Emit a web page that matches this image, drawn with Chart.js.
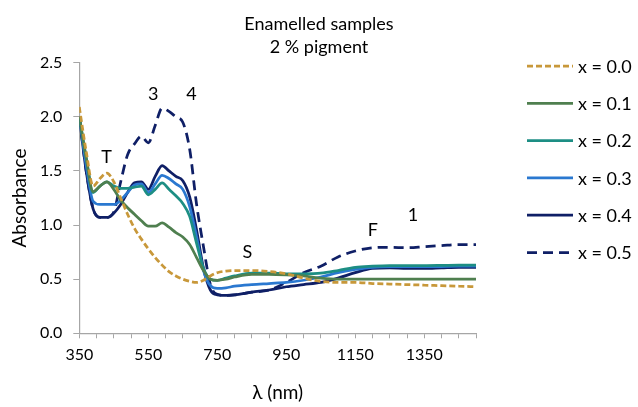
<!DOCTYPE html>
<html>
<head>
<meta charset="utf-8">
<script src="https://cdn.jsdelivr.net/npm/chart.js@4/dist/chart.umd.min.js"></script>
<style>
  html, body { margin: 0; padding: 0; background: #ffffff; }
  #wrap { width: 638px; height: 407px; }
</style>
</head>
<body>
<div id="wrap"><canvas id="c" width="638" height="407"></canvas></div>
<script>
// ---- data ----
const wavelengths = [350, 370, 390, 410, 430, 450, 470, 490, 510, 530, 550, 570, 590, 610, 630, 650, 670, 690, 710, 730, 750, 775, 800, 850, 900, 950, 1000, 1050, 1100, 1150, 1200, 1250, 1300, 1350, 1400, 1450, 1500];

const seriesLabels = ['x = 0.0', 'x = 0.1', 'x = 0.2', 'x = 0.3', 'x = 0.4', 'x = 0.5'];

const absX00 = [2.09, 1.68, 1.36, 1.43, 1.48, 1.40, 1.25, 1.10, 0.97, 0.87, 0.78, 0.70, 0.63, 0.57, 0.53, 0.50, 0.48, 0.47, 0.49, 0.53, 0.56, 0.575, 0.58, 0.58, 0.57, 0.55, 0.51, 0.48, 0.47, 0.47, 0.46, 0.455, 0.45, 0.445, 0.44, 0.435, 0.43];
const absX01 = [2.00, 1.62, 1.31, 1.36, 1.40, 1.33, 1.23, 1.16, 1.10, 1.04, 0.99, 0.99, 1.02, 0.98, 0.93, 0.89, 0.82, 0.70, 0.58, 0.50, 0.49, 0.50, 0.52, 0.545, 0.545, 0.54, 0.53, 0.51, 0.50, 0.50, 0.50, 0.50, 0.50, 0.50, 0.50, 0.50, 0.50];
const absX02 = [2.00, 1.62, 1.30, 1.36, 1.40, 1.36, 1.34, 1.34, 1.35, 1.36, 1.28, 1.33, 1.39, 1.33, 1.27, 1.20, 1.08, 0.83, 0.60, 0.50, 0.49, 0.51, 0.53, 0.555, 0.555, 0.55, 0.55, 0.555, 0.58, 0.61, 0.62, 0.625, 0.625, 0.625, 0.627, 0.63, 0.63];
const absX03 = [2.00, 1.55, 1.22, 1.19, 1.19, 1.19, 1.23, 1.30, 1.37, 1.38, 1.30, 1.38, 1.46, 1.43, 1.38, 1.33, 1.17, 0.89, 0.58, 0.44, 0.415, 0.42, 0.435, 0.45, 0.46, 0.47, 0.49, 0.52, 0.56, 0.59, 0.61, 0.615, 0.615, 0.615, 0.617, 0.62, 0.62];
const absX04 = [2.00, 1.50, 1.15, 1.07, 1.07, 1.11, 1.19, 1.30, 1.39, 1.40, 1.33, 1.45, 1.55, 1.50, 1.45, 1.41, 1.26, 0.955, 0.60, 0.40, 0.355, 0.35, 0.355, 0.38, 0.40, 0.43, 0.45, 0.47, 0.51, 0.56, 0.60, 0.605, 0.60, 0.60, 0.605, 0.61, 0.61];
const absX05 = [2.00, 1.50, 1.15, 1.07, 1.07, 1.12, 1.40, 1.65, 1.75, 1.82, 1.76, 1.92, 2.08, 2.05, 2.00, 1.95, 1.70, 1.19, 0.80, 0.45, 0.36, 0.35, 0.355, 0.38, 0.40, 0.47, 0.56, 0.62, 0.705, 0.76, 0.79, 0.795, 0.79, 0.80, 0.81, 0.82, 0.82];

const yTickValues = [0, 0.5, 1.0, 1.5, 2.0, 2.5];
const xTickLabelValues = [350, 550, 750, 950, 1150, 1350];

const titleLines = ['Enamelled samples', '2 % pigment'];

// peak annotations
const noteTexts = ['T', '3', '4', 'S', 'F', '1'];
const noteWl = [429, 564, 675, 837, 1201, 1317];
const noteAbs = [1.63, 2.21, 2.21, 0.75, 0.955, 1.09];

// ---- styles ----
const FONT = 'Lato, "Open Sans", "Liberation Sans", sans-serif';
const colors = ['#c8983a', '#4f7f4f', '#1d8e84', '#2a78d0', '#0f1f66', '#0f1f66'];
const dashes = [[6, 3], [], [], [], [], [10, 6]];

const allSeries = [absX00, absX01, absX02, absX03, absX04, absX05];
const datasets = allSeries.map((vals, i) => ({
  label: seriesLabels[i],
  data: vals.map((v, k) => ({ x: wavelengths[k], y: v })),
  borderColor: colors[i],
  backgroundColor: colors[i],
  borderWidth: 2.75,
  borderDash: dashes[i],
  pointRadius: 0,
  cubicInterpolationMode: 'monotone',
  fill: false
}));

const extras = {
  id: 'extras',
  afterDatasetsDraw(chart) {
    const ctx = chart.ctx;
    const xs = chart.scales.x, ys = chart.scales.y;
    ctx.save();
    ctx.fillStyle = '#000';
    ctx.textAlign = 'center';
    ctx.textBaseline = 'middle';
    // title, centred on the whole picture
    ctx.font = '18px ' + FONT;
    ctx.fillText(titleLines[0], chart.width / 2, 24);
    ctx.fillText(titleLines[1], chart.width / 2, 47);
    // annotations
    ctx.font = '18px ' + FONT;
    noteTexts.forEach((t, i) => {
      ctx.fillText(t, xs.getPixelForValue(noteWl[i]), ys.getPixelForValue(noteAbs[i]));
    });
    // legend
    const lx0 = 527, lx1 = 573, ly0 = 66, lstep = 37.3;
    chart.data.datasets.forEach((ds, i) => {
      const y = ly0 + i * lstep;
      ctx.beginPath();
      ctx.strokeStyle = ds.borderColor;
      ctx.lineWidth = ds.borderWidth;
      ctx.setLineDash(ds.borderDash);
      ctx.moveTo(lx0, y);
      ctx.lineTo(lx1, y);
      ctx.stroke();
      ctx.setLineDash([]);
      ctx.fillStyle = '#000';
      ctx.textAlign = 'left';
      ctx.font = '18px ' + FONT;
      ctx.fillText(ds.label, lx1 + 5, y + 1);
    });
    ctx.restore();
  }
};

new Chart(document.getElementById('c'), {
  type: 'line',
  data: { datasets },
  options: {
    responsive: false,
    animation: false,
    devicePixelRatio: 1,
    layout: { padding: { left: 0, right: 162, top: 62.7, bottom: 0 } },
    plugins: {
      legend: { display: false },
      tooltip: { enabled: false },
      title: { display: false }
    },
    scales: {
      x: {
        type: 'linear',
        min: 350,
        max: 1500,
        border: { display: true, color: '#a6a6a6', width: 1.2 },
        grid: { display: true, drawOnChartArea: false, drawTicks: true, tickLength: 5, color: '#a6a6a6' },
        ticks: {
          stepSize: 50,
          autoSkip: false,
          maxRotation: 0,
          padding: 7,
          color: '#000',
          font: { family: FONT, size: 16 },
          callback: (v) => xTickLabelValues.includes(v) ? String(v) : ''
        },
        title: {
          display: true,
          text: 'λ (nm)',
          color: '#000',
          font: { family: FONT, size: 19 },
          padding: { top: 0, bottom: 3 }
        },
        afterFit: (s) => { s.height = 407 - 333.3; }
      },
      y: {
        min: 0,
        max: 2.5,
        border: { display: true, color: '#a6a6a6', width: 1.2 },
        grid: { display: true, drawOnChartArea: false, drawTicks: true, tickLength: 6, color: '#a6a6a6' },
        afterBuildTicks: (s) => { s.ticks = yTickValues.map(v => ({ value: v })); },
        ticks: {
          padding: 11,
          color: '#000',
          font: { family: FONT, size: 16 },
          callback: (v) => Number(v).toFixed(1)
        },
        title: {
          display: true,
          text: 'Absorbance',
          color: '#000',
          font: { family: FONT, size: 19 },
          padding: { top: 8, bottom: 0 }
        },
        afterFit: (s) => { s.width = 79.3; }
      }
    }
  },
  plugins: [extras]
});
</script>
</body>
</html>
